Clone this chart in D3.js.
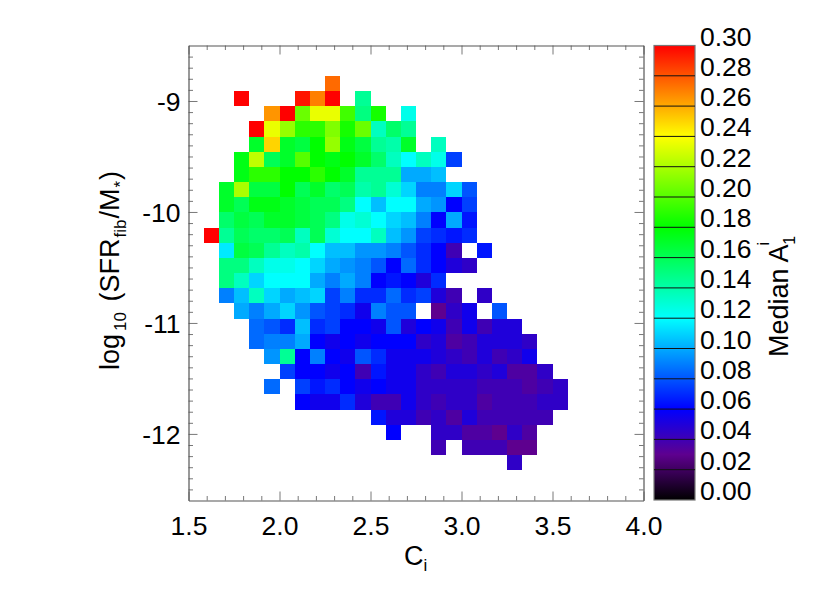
<!DOCTYPE html>
<html>
<head>
<meta charset="utf-8">
<script src="https://cdn.jsdelivr.net/npm/d3@7"></script>
<style>
body { margin: 0; background: #fff; }
text { font-family: "Liberation Sans", Arial, sans-serif; fill: #000; }
</style>
</head>
<body>
<div id="chart"></div>
<script>
// first filled column of each row, row 0 is the top of the plot
const rowStarts = [null, null, 9, 3, 5, 4, 4, 3, 3, 2, 2, 2, 1, 2, 2, 2, 2, 3, 4, 4, 5, 6, 5, 7, 12, 13, 16, 21];
const rowValues = [
    [],
    [],
    [.275],
    [.30, null, null, null, .295, .27, .30, null, .145],
    [.265, .30, .205, .235, .235, .195, .15, .185, null, .125],
    [.30, .235, .215, .19, .19, .21, .185, .205, .135, .155, .145],
    [.17, .25, .17, .165, .18, .215, .175, .165, .145, .14, .17, null, .135],
    [.175, .225, .16, .17, .20, .18, .175, .18, .17, .155, .135, .12, .135, .125, .075],
    [.175, .19, .19, .18, .18, .19, .18, .17, .145, .145, .145, .10, .10, .105],
    [.17, .22, .165, .165, .18, .16, .17, .155, .16, .14, .145, .13, .11, .09, .09, .11, .08],
    [.17, .16, .175, .175, .17, .165, .16, .16, .15, .12, .105, .12, .12, .10, .095, .06, .075],
    [.155, .165, .16, .17, .17, .165, .16, .15, .125, .13, .12, .11, .105, .09, .06, .10, .065],
    [.30, .145, .16, .155, .155, .16, .135, .16, .13, .12, .12, .135, .105, .095, .075, .07, .065, .07],
    [.115, .165, .16, .145, .135, .14, .12, .105, .105, .095, .095, .09, .08, .07, .06, .04, null, .065],
    [.15, .15, .135, .125, .125, .12, .11, .10, .095, .09, .08, .06, .085, .07, .06, .05, .045],
    [.15, .135, .11, .12, .12, .12, .10, .09, .10, .09, .06, .065, .06, .05, .07],
    [.09, .105, .135, .11, .10, .105, .11, .075, .09, .07, .07, .085, .07, .075, .05, .04, null, .045],
    [.10, .09, .10, .11, .095, .08, .075, .07, .055, .09, .08, .08, null, .03, .045, .055, null, .08],
    [.085, .08, .07, .105, .07, .075, .06, .06, .055, .08, .05, .06, .055, .04, .055, .04, .05, .05],
    [.085, .09, .09, .10, .06, .055, .06, .055, .06, .06, .06, .045, .05, .035, .04, .05, .05, .05, .045],
    [.095, .145, .06, .09, .06, .055, .08, .07, .055, .055, .055, .05, .045, .04, .05, .04, .045, .055],
    [.075, .06, .06, .055, .06, .04, .065, .055, .055, .045, .04, .05, .05, .045, .05, .035, .035, .045],
    [.085, null, .075, .065, .07, .06, .055, .06, .055, .055, .045, .045, .045, .045, .04, .04, .04, .035, .04, .045],
    [.06, .055, .055, .07, .05, .04, .04, .055, .045, .04, .045, .045, .035, .04, .04, .04, .045, .045],
    [.065, .05, .05, .04, .045, .035, .05, .04, .04, .04, .04, .04],
    [.06, null, null, .045, .045, .035, .035, .03, .045, .035],
    [.04, null, .04, .04, .04, .03, .03],
    [.045]
];

const xTicks = [1.5, 2.0, 2.5, 3.0, 3.5, 4.0];
const xMinor = [1.6, 1.7, 1.8, 1.9, 2.1, 2.2, 2.3, 2.4, 2.6, 2.7, 2.8, 2.9, 3.1, 3.2, 3.3, 3.4, 3.6, 3.7, 3.8, 3.9];
const yTicks = [-9, -10, -11, -12];
const yMinor = [-8.6, -8.7, -8.8, -8.9, -9.1, -9.2, -9.3, -9.4, -9.5, -9.6, -9.7, -9.8, -9.9,
    -10.1, -10.2, -10.3, -10.4, -10.5, -10.6, -10.7, -10.8, -10.9,
    -11.1, -11.2, -11.3, -11.4, -11.5, -11.6, -11.7, -11.8, -11.9,
    -12.1, -12.2, -12.3, -12.4, -12.5];
const barTicks = [0, .02, .04, .06, .08, .10, .12, .14, .16, .18, .20, .22, .24, .26, .28, .30];

const colorStops = [0, .03, .06, .12, .18, .24, .30];
const colorRange = ["#000000", "#5e008f", "#0000ff", "#00ffff", "#00ff00", "#ffff00", "#ff0000"];

const xBinWidth = 2.5 / 30;
const yBinHeight = 4.1 / 30;

const margin = { top: 45.5, left: 188.5 };
const plotW = 455;
const plotH = 455;

const svg = d3.select("#chart")
    .append("svg")
    .attr("width", 830)
    .attr("height", 593);

const xScale = d3.scaleLinear().domain([1.5, 4.0]).range([0, plotW]);
const yScale = d3.scaleLinear().domain([-12.6, -8.5]).range([plotH, 0]);
const color = d3.scaleLinear().domain(colorStops).range(colorRange);

const cells = [];
rowValues.forEach((vals, r) => {
    vals.forEach((v, i) => {
        if (v !== null) cells.push({ col: rowStarts[r] + i, row: r, value: v });
    });
});

const plot = svg.append("g")
    .attr("transform", `translate(${margin.left}, ${margin.top})`);

plot.selectAll("rect")
    .data(cells)
    .enter()
    .append("rect")
    .attr("x", d => xScale(1.5 + d.col * xBinWidth))
    .attr("y", d => yScale(-8.5 - d.row * yBinHeight))
    .attr("width", xScale(1.5 + xBinWidth) - xScale(1.5))
    .attr("height", yScale(-8.5 - yBinHeight) - yScale(-8.5))
    .attr("fill", d => color(d.value))
    .attr("shape-rendering", "crispEdges");

// axes, ticks point into the plot on all four sides
function drawAxis(axisFn, scale, major, minor, transform, labels) {
    const g = plot.append("g").attr("transform", transform);
    g.call(axisFn(scale).tickValues(minor).tickSize(-4.5).tickFormat(""));
    g.call(sel => sel.selectAll(".domain").remove());
    const m = plot.append("g").attr("transform", transform);
    m.call(axisFn(scale).tickValues(major).tickSize(-9).tickSizeOuter(0).tickFormat(labels ? labels : ""));
    g.selectAll("line").attr("stroke", "#555").attr("stroke-width", 0.8);
    m.selectAll("line").attr("stroke", "#555").attr("stroke-width", 0.8);
    m.select(".domain").attr("stroke", "#555").attr("stroke-width", 1.2);
    return m;
}

const xBottom = drawAxis(d3.axisBottom, xScale, xTicks, xMinor, `translate(0, ${plotH})`, d3.format(".1f"));
drawAxis(d3.axisTop, xScale, xTicks, xMinor, "translate(0, 0)");
const yLeft = drawAxis(d3.axisLeft, yScale, yTicks, yMinor, "translate(0, 0)", d3.format("d"));
drawAxis(d3.axisRight, yScale, yTicks, yMinor, `translate(${plotW}, 0)`);

xBottom.selectAll("text")
    .attr("y", 34.5)
    .attr("dy", 0)
    .style("font-size", "26.5px")
    .style("font-family", "Liberation Sans");

yLeft.selectAll("text")
    .attr("x", -8)
    .attr("dy", "0.36em")
    .style("font-size", "26.5px")
    .style("font-family", "Liberation Sans")
    .text(d => "-" + Math.abs(d));

svg.append("text")
    .attr("x", 404)
    .attr("y", 565)
    .style("font-size", "27px")
    .text("C")
    .append("tspan")
    .attr("dy", 6)
    .style("font-size", "17px")
    .text("i");

const yTitle = svg.append("text")
    .attr("transform", "translate(119, 370) rotate(-90)")
    .style("font-size", "27px");
yTitle.append("tspan").text("log");
yTitle.append("tspan").attr("dy", 7).attr("dx", 3).style("font-size", "17px").text("10");
yTitle.append("tspan").attr("dy", -7).attr("dx", 3).text(" (SFR");
yTitle.append("tspan").attr("dy", 7).attr("dx", 1).style("font-size", "17px").text("fib");
yTitle.append("tspan").attr("dy", -7).attr("dx", 1).text("/M");
yTitle.append("tspan").attr("dy", 7).attr("dx", 1).style("font-size", "17px").text("*");
yTitle.append("tspan").attr("dy", -7).attr("dx", 1).text(")");

// colour bar
const barX = 654;
const barW = 41;
const barScale = d3.scaleLinear().domain([0, .30]).range([500, 45.5]);

const grad = svg.append("defs")
    .append("linearGradient")
    .attr("id", "bar-grad")
    .attr("x1", 0).attr("x2", 0).attr("y1", 1).attr("y2", 0);
grad.selectAll("stop")
    .data(colorStops)
    .enter()
    .append("stop")
    .attr("offset", d => d / .30)
    .attr("stop-color", d => color(d));

svg.append("rect")
    .attr("x", barX)
    .attr("y", barScale(.30))
    .attr("width", barW)
    .attr("height", barScale(0) - barScale(.30))
    .attr("fill", "url(#bar-grad)")
    .attr("stroke", "#777")
    .attr("stroke-width", 1.2);

svg.selectAll(".bar-tick")
    .data(barTicks.slice(1, -1))
    .enter()
    .append("line")
    .attr("class", "bar-tick")
    .attr("x1", barX)
    .attr("x2", barX + barW)
    .attr("y1", d => barScale(d))
    .attr("y2", d => barScale(d))
    .attr("stroke", "#111")
    .attr("stroke-width", 1);

svg.selectAll(".bar-label")
    .data(barTicks)
    .enter()
    .append("text")
    .attr("class", "bar-label")
    .attr("x", 700)
    .attr("y", d => barScale(d))
    .style("font-size", "26.5px")
    .text(d => d3.format(".2f")(d));

const barTitle = svg.append("text")
    .attr("transform", "translate(788, 357) rotate(-90)")
    .style("font-size", "27px");
barTitle.append("tspan").text("Median A");
barTitle.append("tspan").attr("dy", -19).attr("dx", -1).style("font-size", "16px").text("i");
barTitle.append("tspan").attr("dy", 26).attr("dx", -3).style("font-size", "16px").text("1");
</script>
</body>
</html>
